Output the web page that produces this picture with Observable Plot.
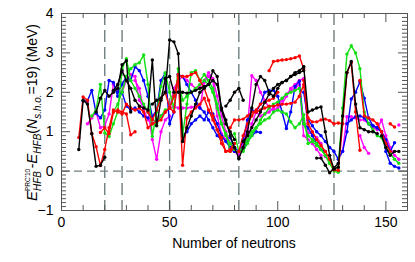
<!DOCTYPE html>
<html><head><meta charset="utf-8">
<script src="https://cdn.jsdelivr.net/npm/d3@7"></script>
<script src="https://cdn.jsdelivr.net/npm/@observablehq/plot@0.6"></script>
<style>body{margin:0;background:#fff}</style>
</head><body><div id="chart"></div>
<script>
// Each chain: [first neutron number, values every 2 neutrons]
const blackChains = [
  [8, [0.55,1.8,1.7,0.95,0.12,0.15,0.35]],
  [16, [1.5,1.85,2.05,1.9,2.0,2.1,2.7,2.8,1.5]],
  [24, [2.05,2.2,2.55,2.3,2.1,1.8,1.65,1.6,1.55,2.82,1.15,1.8,2.35,2.4,2.0]],
  [42, [1.7,1.8,1.85,2.0,3.33,3.28,2.98,0.75,1.1,1.4,1.7,2.0,2.1,2.2,2.3,2.2,1.6,1.3,0.9,0.6,0.32]],
  [54, [2.0,2.0,1.98,2.0,2.05,2.1,2.15,2.2,2.55,2.4,1.55,1.2,1.0,0.8]],
  [76, [1.65,1.8,2.0,2.1,1.8]],
  [82, [0.32,0.6,1.0,1.6,2.2,2.4,2.3,2.0,1.9,2.1,2.25,2.3,2.4,2.5,2.55,2.65]],
  [84, [0.75,0.9,1.1,1.3,1.5,1.75,1.95,2.1,2.2,2.25,2.3,2.4,2.45,2.5,2.55]],
  [112, [2.65,1.5,1.55,1.6,1.63,1.0,0.4,0.05,0.1,1.4,2.5,2.78,1.7,1.1,1.05,1.0,1.0,0.95]],
  [118, [0.33,0.33,0.15,-0.04,0.08,0.2]],
  [148, [0.9,0.6,0.4,0.5,0.5]]
];
const redChains = [
  [8, [0.85,1.88,1.8,0.95,0.62,0.14,0.55,1.1,1.55]],
  [18, [0.98,1.1,0.95,1.5,1.55,1.5,1.45,0.92,1.0]],
  [26, [1.5,1.45,1.7,1.6,1.55,1.6,1.5,1.1,1.2,1.25,1.3,1.5,1.6,1.9,2.4,0.15,1.35,1.5,1.6,1.7,1.85,1.55,1.3,1.05,0.85,0.5,0.55,0.7]],
  [40, [1.5,1.3,1.55,1.85,2.0,1.6,1.5,2.45,2.4,2.4,2.45,2.5,2.3,2.1,1.8,1.4,1.05,0.7,0.5,0.5,0.6]],
  [78, [1.1,1.3,1.3,1.32,1.4,1.5,1.5,1.55,1.6,1.65,1.65,1.68,1.7,1.7,1.72,1.75,1.9,2.2,1.35,1.25,1.25,1.3,1.32,1.28,1.2,1.22,1.2]],
  [82, [0.5,0.9,1.2,1.4,1.55,1.7,1.75,1.8,1.85,2.0]],
  [96, [2.55,2.78,2.8,2.82,2.83,2.85,2.88,2.92,2.6]],
  [112, [2.3,1.2,1.0,0.8,0.65,0.5,0.3,0.03,0.02,1.2,2.5,2.75,1.5,0.53]],
  [138, [2.3,1.4,1.35,1.3,1.2,1.0,0.7,0.5]],
  [152, [1.2,1.12]]
];
const greenChains = [
  [14, [1.4,1.55,2.2,0.97,0.88,1.2,1.5,2.6,2.85,2.3,2.1,1.9,1.7,1.5,1.3]],
  [24, [1.5,1.7,2.0,2.4,2.6,2.7,2.75,2.95,2.2,0.88,1.5,2.15,2.5,2.0,1.6,2.6,0.9,1.7,2.5,2.55,2.3,2.45,2.3,2.1,1.7,1.2,0.95,0.5]],
  [44, [1.2,1.4,1.55,1.6,1.9,2.3,1.8,1.9,2.0,2.1,2.2,2.3,2.2,2.0,1.6,1.2,0.9,0.7,0.55]],
  [80, [0.95,0.5,0.6,0.8,1.0,1.1,1.2,1.3,1.35,1.5,1.55,1.5,1.45,1.25,1.1,1.2,1.43,0.7,0.75,0.65,0.55,0.4,0.2,0.0,-0.03]],
  [84, [0.5,0.7,0.9,1.1,1.3,1.45,1.6,1.7,1.75,1.85,1.95,2.0,2.05,2.1,1.2,0.9,0.8,0.7,0.55,0.4,0.2,0.05]],
  [128, [0.1,1.6,2.97,3.18,3.0,2.6,1.5,1.2,1.05,0.9,0.85,0.6,0.45,0.3,0.2]]
];
const blueChains = [
  [10, [1.78,1.78,2.05,1.47,1.35,1.55,2.3,2.25,1.9,2.0,1.65,1.55,1.6,1.5,1.4,1.35]],
  [26, [2.0,2.2,2.4,2.3,2.65,2.55,2.3,1.9,1.38,1.55,2.3,2.48,1.2,1.5,2.45,2.4,2.2,2.0,1.8,1.6,1.5,1.3,1.1,0.9,0.8]],
  [54, [2.45,0.9,1.0,1.2,1.3,1.4,1.3,1.5,1.45,1.2,0.9,0.75,0.6,0.5]],
  [78, [0.85,0.6,0.5,0.8,1.3,1.55,1.5,1.7,2.0,2.05,2.05,1.9,1.5,1.08,1.5,2.15,2.28,1.2,1.1,0.9,0.7,0.55,0.5]],
  [84, [0.55,0.75,0.9,1.0,0.98]],
  [112, [2.0,1.3,1.15,1.0,0.9,0.75,0.6,0.5,0.3,0.5,1.0,1.83,2.0,2.27,1.85,1.35,1.15,1.1,1.0,0.5,0.2,0.12,0.08]],
  [132, [1.2,1.3,1.38,1.4,1.35,1.2,1.15,1.1,1.0,0.8,0.5,0.72]]
];
const magentaChains = [
  [12, [1.2,1.35,1.5,1.1,1.15,1.45,2.2,2.05,2.0,2.3,2.45,2.4,1.8,1.6,1.55,0.8,0.3,1.0,1.3,1.4]],
  [34, [2.3,2.1,1.55,1.3,1.2,1.3,1.4,1.5,1.6,1.65,1.6,1.6,1.6,1.62,1.65,1.6,2.25,2.4,2.3,1.4,0.95,0.8,0.6,0.5]],
  [40, [1.5,1.3,1.25,1.4,1.5,1.6,2.1,2.3,2.4,2.3,2.2,2.1,2.15,2.3,2.5,2.35,1.9,1.4,1.0,0.7,0.5,0.4]],
  [82, [0.4,0.7,1.1,2.42,2.3,2.0,1.8,1.6,1.55,1.6,1.7,1.9,2.1,2.2,2.3,2.35,0.97,0.95,0.85,0.7,0.37,0.28]],
  [86, [0.8,1.2,1.5,1.4,1.45,1.5,1.6,1.7,1.8,1.95,2.05,2.1,2.2,0.9,0.8,0.7,0.55,0.4]],
  [130, [0.5,1.38,1.38,1.35,1.3,1.3,1.2,1.1,1.05,1.3,0.9,0.6,0.4,0.3]],
  [138, [0.9,0.6,0.45]],
  [156, [1.17]]
];
const magicNumbers = [20, 28, 50, 82, 126];
const xTickValues = d3.range(0, 161, 10);
const yTickValues = [-1, 0, 1, 2, 3, 4];
const yMinorValues = d3.range(-10, 41).map(d => d / 10);

function rows(chains, color) {
  return chains.flatMap(([start, vals], i) =>
    vals.map((v, j) => ({id: color + i, color, N: start + 2 * j, E: v})));
}
const groups = [
  ["#ff00ff", magentaChains],
  ["#0000ff", blueChains],
  ["#11e011", greenChains],
  ["#ff0000", redChains],
  ["#000000", blackChains]
];

const W = 415, H = 262, mL = 61, mR = 8, mT = 13, mB = 52;
const pxY = 5 / (H - mT - mB);    // 1px in y units
const pxX = 160 / (W - mL - mR);  // 1px in x units
const gridC = "#6e7f7f", tickC = "#555";

const marks = [
  Plot.ruleX(magicNumbers, {stroke: gridC, strokeWidth: 1.4, strokeDasharray: "12,5"}),
  Plot.ruleY([0], {stroke: gridC, strokeWidth: 1.4, strokeDasharray: "8,5"}),
];
for (const [c, ch] of groups) {
  const r = rows(ch, c);
  marks.push(Plot.line(r, {x: "N", y: "E", z: "id", stroke: c, strokeWidth: 1.4}));
  marks.push(Plot.dot(r, {x: "N", y: "E", r: 1.7, fill: c}));
}
// inside ticks
const tlen = d => (d % 50 === 0 ? 9 : 5);
const ylen = d => (Math.abs(Math.round(d) - d) < 1e-9 ? 9 : 5);
marks.push(
  Plot.ruleX(xTickValues, {x: d => d, y1: -1, y2: d => -1 + tlen(d) * pxY, stroke: tickC}),
  Plot.ruleX(xTickValues, {x: d => d, y1: 4, y2: d => 4 - tlen(d) * pxY, stroke: tickC}),
  Plot.ruleY(yMinorValues, {y: d => d, x1: 0, x2: d => ylen(d) * pxX, stroke: tickC}),
  Plot.ruleY(yMinorValues, {y: d => d, x1: 160, x2: d => 160 - ylen(d) * pxX, stroke: tickC}),
  Plot.frame({stroke: tickC, strokeWidth: 1}),
  Plot.axisX(xTickValues.filter(d => d % 50 === 0), {tickSize: 0, tickPadding: 7, label: null, fontSize: 14}),
  Plot.axisY(yTickValues, {tickSize: 0, tickPadding: 8, label: null, fontSize: 14})
);

const svg = Plot.plot({
  width: W, height: H,
  marginLeft: mL, marginRight: mR, marginTop: mT, marginBottom: mB,
  x: {domain: [0, 160]},
  y: {domain: [-1, 4]},
  style: {fontFamily: "'Liberation Sans', Arial, sans-serif", fontSize: "14px", color: "#000", background: "#fff"},
  marks
});
document.getElementById("chart").appendChild(svg);

const s = d3.select(svg);
s.append("text").attr("x", (mL + W - mR) / 2).attr("y", 248)
  .attr("text-anchor", "middle").attr("font-size", 14).attr("fill", "#000")
  .text("Number of neutrons");

// y-axis label with sub/superscripts, as one text element with tspans
const t = s.append("text").attr("fill", "#000").attr("font-size", 14);
const sp = (str, o = {}) => t.append("tspan")
  .attr("font-size", o.size || 14)
  .attr("font-style", o.italic ? "italic" : "normal")
  .attr("dy", o.dy || 0).text(str);
sp("E", {italic: true, size: 15});
const sub1 = sp("HFB", {italic: true, size: 10, dy: 3.5});
const sup1 = sp("PRC'10", {size: 6.5, dy: -11});
const minus = sp("-", {dy: 7.5});
sp("E", {italic: true, size: 15});
sp("HFB", {italic: true, size: 10, dy: 3.5});
sp("(", {dy: -3.5});
sp("N", {italic: true});
sp("s.h.o.", {italic: true, size: 10, dy: 3.5});
sp("=19) (MeV)", {dy: -3.5});
const w1 = sub1.node().getComputedTextLength();
const w2 = sup1.node().getComputedTextLength();
sup1.attr("dx", -w1);
minus.attr("dx", Math.max(0, w1 - w2) + 0.5);
const bb = t.node().getBBox();
t.attr("transform", `translate(37,${112.5 + bb.x + bb.width / 2}) rotate(-90)`);
</script></body></html>
